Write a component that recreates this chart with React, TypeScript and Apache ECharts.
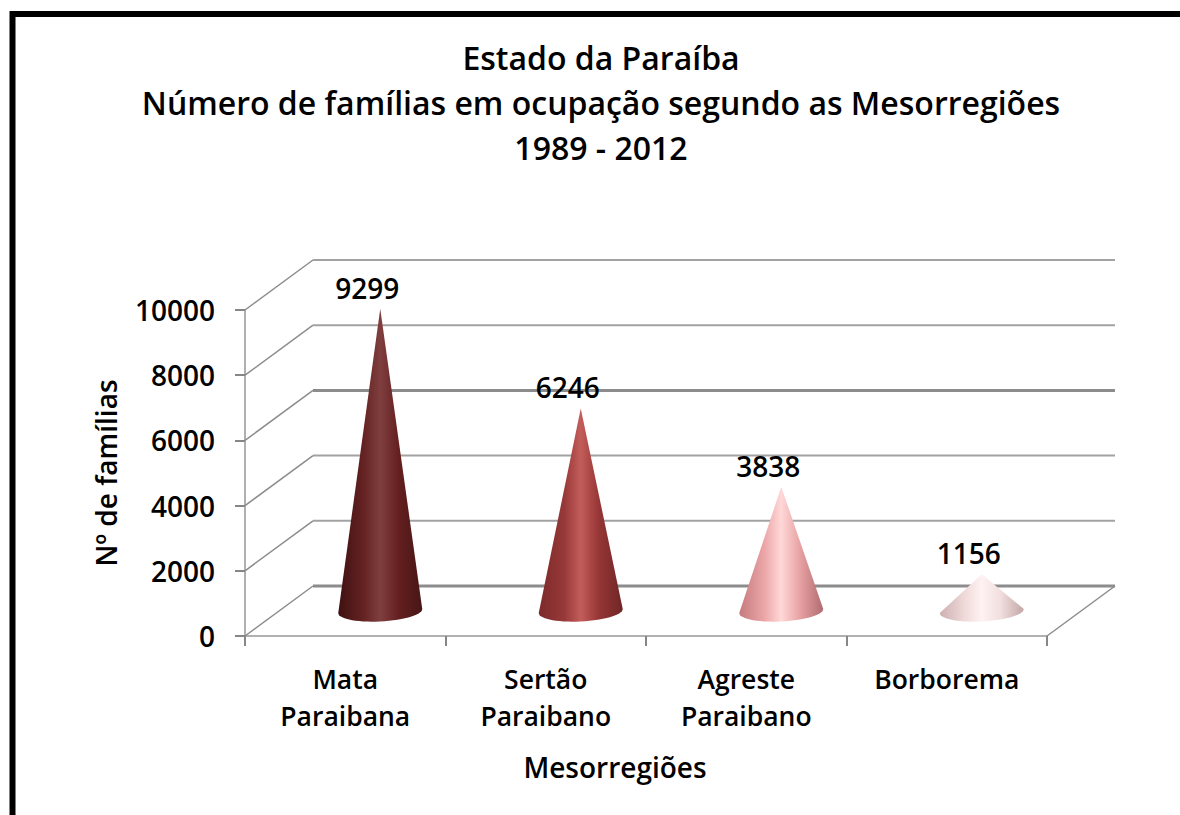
import React, { useEffect, useRef } from "react";
import * as echarts from "echarts";

const titleLines = ["Estado da Paraíba", "Número de famílias em ocupação segundo as Mesorregiões", "1989 - 2012"];
const categories = ["Mata\nParaibana", "Sertão\nParaibano", "Agreste\nParaibano", "Borborema"];
const values = [9299, 6246, 3838, 1156];
const yTicks = [0, 2000, 4000, 6000, 8000, 10000];
const xName = "Mesorregiões";
const yName = "Nº de famílias";
const conePalettes = [
  ["#3f1111", "#652222", "#803f3f", "#641f1f", "#471616"],
  ["#7c2a2a", "#973838", "#c25d5a", "#963535", "#6f2626"],
  ["#c47b7d", "#eca6a8", "#ffd8d8", "#e8a2a4", "#b06c70"],
  ["#cdb0b0", "#f0dada", "#fff2f2", "#f2dfdf", "#c4a6a6"],
];

const FONT = "'Open Sans', sans-serif";
const DEPTH_X = 68;
const DEPTH_Y = -50;
const GRID_COLOR = "#8c8c8c";
const GRID_LIGHT = "#a2a2a2";

export default function App() {
  const ref = useRef<HTMLDivElement>(null);
  useEffect(() => {
    document.body.style.margin = "0";
    const chart = echarts.init(ref.current!, undefined, { renderer: "svg" });

    const renderWalls = (params: any, api: any) => {
      const cs = params.coordSys;
      const v = api.value(1);
      const y = api.coord([0, v])[1];
      const left = cs.x;
      const right = cs.x + cs.width;
      const strong = v === 0 || v === 6000;
      const diag = (a: number, b: number) => ({
        type: "line",
        shape: { x1: a, y1: b, x2: a + DEPTH_X, y2: b + DEPTH_Y },
        style: { stroke: GRID_COLOR, lineWidth: 1.5 },
      });
      const children: any[] = [
        diag(left, y),
        {
          type: "line",
          shape: { x1: left + DEPTH_X, y1: y + DEPTH_Y, x2: right + DEPTH_X, y2: y + DEPTH_Y },
          style: { stroke: strong ? GRID_COLOR : GRID_LIGHT, lineWidth: strong ? 3 : 2 },
        },
      ];
      if (v === 0) children.push(diag(right, y));
      return { type: "group", children };
    };

    const renderCone = (_params: any, api: any) => {
      const idx = api.value(0);
      const [ax, ay] = api.coord([idx, api.value(1)]);
      const [bx, by] = api.coord([idx, 0]);
      const apex = [ax + DEPTH_X / 2 + 1, ay + DEPTH_Y / 2 + 1];
      const cx = bx + DEPTH_X / 2 + 1;
      const cy = by + DEPTH_Y / 2;
      const rx = 42;
      const ry = 10.5;
      const pts: number[][] = [apex];
      for (let d = 0; d <= 180; d += 6) {
        const t = (d * Math.PI) / 180;
        pts.push([cx + rx * Math.cos(t), cy + ry * Math.sin(t) - 2 * Math.cos(t)]);
      }
      const p = conePalettes[idx];
      return {
        type: "polygon",
        shape: { points: pts },
        style: {
          fill: new echarts.graphic.LinearGradient(0, 0, 1, 0, [
            { offset: 0, color: p[0] },
            { offset: 0.3, color: p[1] },
            { offset: 0.5, color: p[2] },
            { offset: 0.72, color: p[3] },
            { offset: 1, color: p[4] },
          ]),
        },
      };
    };

    chart.setOption({
      animation: false,
      backgroundColor: "#ffffff",
      textStyle: { fontFamily: FONT },
      title: {
        text: titleLines.join("\n"),
        left: 596,
        top: 30,
        textAlign: "center",
        textStyle: { fontFamily: FONT, fontSize: 32, fontWeight: 600, color: "#000", lineHeight: 45 },
      },
      grid: { left: 245, right: 133, top: 310, bottom: 179, containLabel: false },
      xAxis: {
        type: "category",
        data: categories,
        name: xName,
        nameLocation: "middle",
        nameGap: 117,
        nameTextStyle: { fontFamily: FONT, fontSize: 28, fontWeight: 600, color: "#000", padding: [0, 62, 0, 0] },
        axisLine: { lineStyle: { color: "#b0b0b0", width: 2 } },
        axisTick: { show: true, alignWithLabel: false, length: 10, lineStyle: { color: "#868686", width: 2 } },
        axisLabel: { interval: 0, margin: 24, fontFamily: FONT, fontSize: 26.5, fontWeight: 600, color: "#000", lineHeight: 37 },
      },
      yAxis: {
        type: "value",
        min: 0,
        max: 10000,
        interval: 2000,
        name: yName,
        nameLocation: "middle",
        nameGap: 125,
        nameRotate: 90,
        nameTextStyle: { fontFamily: FONT, fontSize: 28, fontWeight: 600, color: "#000" },
        axisLine: { show: true, lineStyle: { color: "#b0b0b0", width: 2 } },
        axisTick: { show: true, length: 10, lineStyle: { color: "#868686", width: 2 } },
        axisLabel: { margin: 30, padding: [3, 0, 0, 0], fontFamily: FONT, fontSize: 28, fontWeight: 600, color: "#000", formatter: (v: number) => String(v) },
        splitLine: { show: false },
      },
      series: [
        {
          type: "custom",
          name: "walls",
          silent: true,
          clip: false,
          renderItem: renderWalls,
          encode: { x: 0, y: 1 },
          data: yTicks.map((t) => [0, t]),
          z: 1,
        },
        {
          type: "custom",
          name: "cones",
          clip: false,
          renderItem: renderCone,
          encode: { x: 0, y: 1 },
          data: values.map((v, i) => [i, v]),
          z: 2,
        },
        {
          type: "scatter",
          name: "labels",
          symbolSize: 0,
          itemStyle: { opacity: 1 },
          data: values.map((v, i) => [i, v]),
          z: 3,
          label: {
            show: true,
            position: "top",
            distance: 5,
            offset: [22, -26],
            formatter: (p: any) => String(p.value[1]),
            fontFamily: FONT,
            fontSize: 28,
            fontWeight: 600,
            color: "#000000",
            opacity: 1,
          },
        },
      ],
      graphic: [
        {
          type: "polyline",
          shape: { points: [[12.5, 815], [12.5, 14], [1180, 14]] },
          style: { stroke: "#000", lineWidth: 6, fill: "none" },
          silent: true,
        },
      ],
    });
    return () => chart.dispose();
  }, []);
  return <div ref={ref} style={{ width: 1180, height: 815 }} />;
}
